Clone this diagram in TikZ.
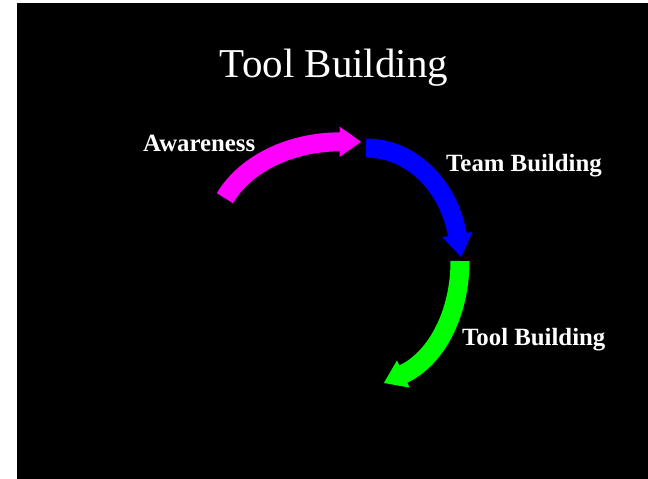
\documentclass[tikz,border=0pt]{standalone}
\usepackage{fontspec}
\setmainfont{Liberation Serif}
\begin{document}
\begin{tikzpicture}[x=1pt,y=-1pt,
  lbl/.style={text=white,font=\fontsize{24.8}{28}\selectfont\bfseries,inner sep=0pt,anchor=base west},
  ttl/.style={text=white,font=\fontsize{41}{48}\selectfont,inner sep=0pt,anchor=base},
  band/.style={line width=19pt,line cap=butt}]
\useasboundingbox (0,0) rectangle (648,479);
\fill[white] (0,0) rectangle (648,479);
\fill[black] (17,3) rectangle (648,479);
\definecolor{mag}{RGB}{255,0,255}
\definecolor{blu}{RGB}{0,0,255}
\definecolor{grn}{RGB}{0,255,0}
% title
\node[ttl] (title) at (334,77) {Tool Building};
% magenta arrow
\coordinate (magS) at (224.9,198.2);
\coordinate (magL) at (339.5,126.5);
\coordinate (magR) at (339.5,157.1);
\coordinate (magT) at (361,141.8);
\draw[band,mag] (magS) arc[start angle=-156,end angle=-90,x radius=126,y radius=95];
\fill[mag] (magL) -- (magT) -- (magR) -- cycle;
% blue arrow
\coordinate (bluS) at (366,148);
\coordinate (bluL) at (472.4,232.0);
\coordinate (bluR) at (442.2,237.1);
\coordinate (bluT) at (461.2,257.2);
\draw[band,blu] (bluS) arc[start angle=-90,end angle=-11.5,x radius=93.4,y radius=109.3];
\fill[blu] (bluL) -- (bluT) -- (bluR) -- cycle;
% green arrow
\coordinate (grnS) at (460,261);
\coordinate (grnL) at (409.6,387.6);
\coordinate (grnR) at (397.0,360.4);
\coordinate (grnT) at (383.9,383.0);
\draw[band,grn] (grnS) arc[start angle=0,end angle=72.4,x radius=82.4,y radius=119];
\fill[grn] (grnL) -- (grnT) -- (grnR) -- cycle;
% labels
\node[lbl] (aw) at (143,151) {Awareness};
\node[lbl] (tb) at (446,171.5) {Team Building};
\node[lbl] (tl) at (462,345) {Tool Building};
\end{tikzpicture}
\end{document}
